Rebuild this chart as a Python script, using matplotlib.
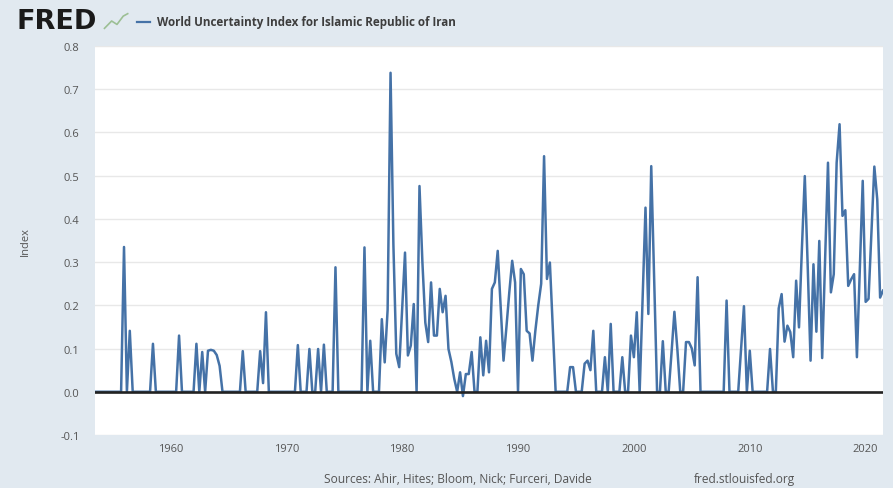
import pandas as pd
import matplotlib.pyplot as plt
import matplotlib.dates as mdates
from matplotlib.lines import Line2D

# quarterly values, World Uncertainty Index for Iran
wui_1950s = [0, 0,                       # 1953 Q3-Q4
             0, 0, 0, 0,                 # 1954
             0, 0, 0, 0,                 # 1955
             0.335, 0, 0.141, 0,         # 1956
             0, 0, 0, 0,                 # 1957
             0, 0, 0.111, 0,             # 1958
             0, 0, 0, 0]                 # 1959
wui_1960s = [0, 0, 0, 0.13,
             0, 0, 0, 0,
             0, 0.111, 0, 0.092,
             0, 0.095, 0.097, 0.095,
             0.085, 0.06, 0, 0,
             0, 0, 0, 0,
             0, 0.094, 0, 0,
             0, 0, 0, 0.094,
             0.02, 0.184, 0, 0,
             0, 0, 0, 0]
wui_1970s = [0, 0, 0, 0,
             0.108, 0, 0, 0,
             0.099, 0, 0, 0.099,
             0, 0.109, 0, 0,
             0, 0.288, 0, 0,
             0, 0, 0, 0,
             0, 0, 0, 0.334,
             0, 0.118, 0, 0,
             0, 0.168, 0.068, 0.19,
             0.738, 0.34, 0.088, 0.057]
wui_1980s = [0.19, 0.322, 0.084, 0.107,
             0.203, 0, 0.476, 0.30,
             0.16, 0.115, 0.253, 0.13,
             0.13, 0.238, 0.184, 0.222,
             0.099, 0.069, 0.03, 0.0,
             0.045, -0.01, 0.041, 0.041,
             0.092, 0, 0, 0.126,
             0.038, 0.118, 0.045, 0.238,
             0.253, 0.326, 0.2, 0.072,
             0.15, 0.23, 0.303, 0.253]
wui_1990s = [0, 0.284, 0.272, 0.141,
             0.135, 0.072, 0.141, 0.20,
             0.25, 0.545, 0.261, 0.299,
             0.15, 0, 0, 0,
             0, 0, 0.057, 0.057,
             0, 0, 0, 0.065,
             0.072, 0.05, 0.141, 0,
             0, 0, 0.08, 0,
             0.157, 0, 0, 0,
             0.08, 0, 0, 0.13]
wui_2000s = [0.08, 0.184, 0, 0.21,
             0.426, 0.18, 0.522, 0.26,
             0, 0, 0.117, 0,
             0, 0.09, 0.185, 0.1,
             0, 0, 0.115, 0.115,
             0.1, 0.061, 0.265, 0,
             0, 0, 0, 0,
             0, 0, 0, 0,
             0.211, 0, 0, 0,
             0, 0.1, 0.198, 0]
wui_2010s = [0.095, 0, 0, 0,
             0, 0, 0, 0.099,
             0, 0, 0.193, 0.226,
             0.116, 0.153, 0.138, 0.08,
             0.257, 0.149, 0.33, 0.499,
             0.29, 0.072, 0.295, 0.139,
             0.349, 0.078, 0.3, 0.53,
             0.23, 0.272, 0.53, 0.619,
             0.407, 0.42, 0.245, 0.26,
             0.272, 0.08, 0.28, 0.488]
wui_2020s = [0.208, 0.215, 0.37, 0.521,
             0.445, 0.218, 0.234]

values = wui_1950s + wui_1960s + wui_1970s + wui_1980s + wui_1990s + wui_2000s + wui_2010s + wui_2020s
dates = pd.date_range('1953-07-01', periods=len(values), freq='QS')
data = pd.DataFrame({'date': dates, 'wui': values})

bg = '#e1e9f0'
fig = plt.figure(figsize=(8.93, 4.89), dpi=100, facecolor=bg)
ax = fig.add_axes([0.1064, 0.1084, 0.8824, 0.7955])
ax.set_facecolor('white')

ax.plot(data['date'], data['wui'], color='#4572a7', linewidth=1.8, zorder=3)
ax.axhline(0, color='#222222', linewidth=1.9, zorder=4)

ax.set_ylim(-0.1, 0.8)
ax.set_yticks([-0.1, 0, 0.1, 0.2, 0.3, 0.4, 0.5, 0.6, 0.7, 0.8])
ax.set_yticklabels(['-0.1', '0.0', '0.1', '0.2', '0.3', '0.4', '0.5', '0.6', '0.7', '0.8'])
ax.set_xlim(data['date'].iloc[0], data['date'].iloc[-1])
ax.xaxis.set_major_locator(mdates.YearLocator(10))
ax.xaxis.set_major_formatter(mdates.DateFormatter('%Y'))
ax.grid(axis='y', color='#e8e8e8', linewidth=1)
ax.set_axisbelow(True)
for s in ax.spines.values():
    s.set_visible(False)
ax.tick_params(axis='both', length=0, labelsize=8, labelcolor='#555555')
ax.tick_params(axis='y', pad=11)
ax.tick_params(axis='x', pad=6)
for lbl in ax.get_xticklabels() + ax.get_yticklabels():
    lbl.set_family('Open Sans')

ax.set_ylabel('Index', fontsize=8, color='#555555', family='Open Sans')
ax.yaxis.set_label_coords(-0.082, 0.5)

# header: FRED logo and legend
fig.text(0.019, 0.955, 'FRED', fontsize=19.5, fontweight='heavy', color='#1a1a1a',
         family='DejaVu Sans', va='center')
fig.add_artist(Line2D([0.117, 0.125, 0.131, 0.138, 0.143], [0.94, 0.955, 0.948, 0.965, 0.97],
                      transform=fig.transFigure, color='#9cbf94', linewidth=1.2))
fig.add_artist(Line2D([0.153, 0.168], [0.953, 0.953], transform=fig.transFigure,
                      color='#4572a7', linewidth=1.6))
fig.text(0.176, 0.953, 'World Uncertainty Index for Islamic Republic of Iran', fontsize=8.4,
         fontweight='bold', color='#3d3d3d', family='Open Sans', va='center')

# footer
fig.text(0.513, 0.02, 'Sources: Ahir, Hites; Bloom, Nick; Furceri, Davide', fontsize=8.6,
         color='#555555', family='Open Sans', ha='center', va='center')
fig.text(0.834, 0.02, 'fred.stlouisfed.org', fontsize=8.6, color='#555555',
         family='Open Sans', ha='center', va='center')

plt.savefig('out.png', dpi=100, facecolor=bg)
